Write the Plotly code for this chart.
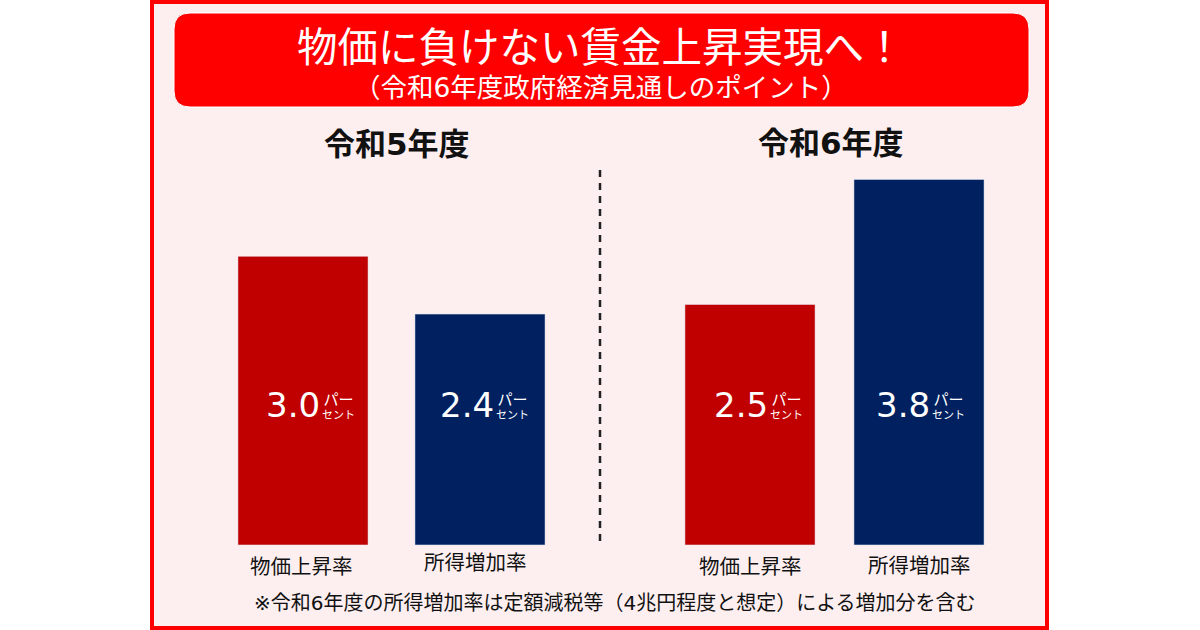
"""Real wage outlook: price rise vs income growth, FY Reiwa 5 and Reiwa 6."""

import plotly.graph_objects as go
from plotly.subplots import make_subplots

# ---------- Data ----------
categories = ["物価上昇率", "所得増加率"]
years = ["令和5年度", "令和6年度"]
values_r5 = [3.0, 2.4]
values_r6 = [2.5, 3.8]
bar_colors = ["#c00000", "#002060"]
unit_text = '<span style="font-size:15px">パー</span><br>セント'

title_text = "物価に負けない賃金上昇実現へ！"
subtitle_text = "（令和6年度政府経済見通しのポイント）"
note_text = "※令和6年度の所得増加率は定額減税等（4兆円程度と想定）による増加分を含む"

# DejaVu first for the wide digits, CJK falls through to Noto
FONT = "DejaVu Sans, Noto Sans CJK JP"
CJK = "Noto Sans CJK JP"
W, H = 1200, 630


def px(x):
    return x / W


def py(y):
    return 1 - y / H


# ---------- Figure: one subplot per year, each spans the page height ----------
fig = make_subplots(rows=1, cols=2, shared_yaxes=True)

fig.add_trace(go.Bar(x=categories, y=values_r5, marker_color=bar_colors,
                     width=0.735, showlegend=False, hoverinfo="x+y"),
              row=1, col=1)
fig.add_trace(go.Bar(x=categories, y=values_r6, marker_color=bar_colors,
                     width=0.77, showlegend=False, hoverinfo="x+y"),
              row=1, col=2)

hidden = dict(visible=False, fixedrange=True)
fig.update_xaxes(domain=[px(214.5), px(568.5)], range=[-0.5, 1.5], **hidden, row=1, col=1)
fig.update_xaxes(domain=[px(665.5), px(1003.5)], range=[-0.5, 1.5], **hidden, row=1, col=2)
fig.update_yaxes(domain=[0, 1], range=[-0.884, 5.665], **hidden)

# ---------- Panel, border, header box, divider ----------
shapes = [
    dict(type="rect", xref="paper", yref="paper", layer="below",
         x0=px(152), x1=px(1047), y0=py(628), y1=py(2),
         fillcolor="#fdeff0", line=dict(color="#ff0000", width=4)),
    dict(type="path", xref="paper", yref="paper", layer="below",
         path=(f"M {px(190)} {py(13)} L {px(1013)} {py(13)} "
               f"Q {px(1029)} {py(13)} {px(1029)} {py(29)} "
               f"L {px(1029)} {py(91)} Q {px(1029)} {py(107)} {px(1013)} {py(107)} "
               f"L {px(190)} {py(107)} Q {px(174)} {py(107)} {px(174)} {py(91)} "
               f"L {px(174)} {py(29)} Q {px(174)} {py(13)} {px(190)} {py(13)} Z"),
         fillcolor="#ff0000", line=dict(color="#ffffff", width=1)),
    dict(type="line", xref="paper", yref="paper",
         x0=px(600), x1=px(600), y0=py(170), y1=py(546),
         line=dict(color="#222222", width=2.5, dash="7px,6px")),
]


def page_text(text, x, y, size, color="#111111", bold=False, family=FONT):
    label = f"<b>{text}</b>" if bold else text
    return dict(text=label, xref="paper", yref="paper", x=px(x), y=py(y),
                xanchor="center", yanchor="middle", showarrow=False,
                font=dict(family=family, size=size, color=color))


annotations = [
    page_text(title_text, 601, 45, 40.5, "#ffffff", family=CJK),
    page_text(subtitle_text, 601, 88, 26.5, "#ffffff"),
    page_text(years[0], 397, 144, 31, bold=True),
    page_text(years[1], 831, 143, 31, bold=True),
    page_text(note_text, 615, 603, 20),
    page_text(categories[0], 301, 565, 20.5, family=CJK),
    page_text(categories[1], 475, 561, 20.5, family=CJK),
    page_text(categories[0], 750, 565, 20.5, family=CJK),
    page_text(categories[1], 919, 564, 20.5, family=CJK),
]


def bar_text(text, axis, cat, xshift, yshift, size, family):
    return dict(text=text, xref=axis, yref="y", x=cat, y=1.455,
                xshift=xshift, yshift=yshift, xanchor="center", yanchor="middle",
                showarrow=False, align="center", borderpad=0, borderwidth=0,
                font=dict(family=family, size=size, color="#ffffff"))


# value labels sit on the bars: number plus small stacked unit
label_sets = [("x", values_r5, (-10.5, -13.5), (35, 32)),
              ("x2", values_r6, (-9, -16), (36, 29))]
for axis, vals, num_shifts, unit_shifts in label_sets:
    for cat, val, ns, us in zip(categories, vals, num_shifts, unit_shifts):
        annotations.append(bar_text(f"{val:.1f}", axis, cat, ns, 0, 34, "DejaVu Sans"))
        annotations.append(bar_text(unit_text, axis, cat, us, 0, 11, CJK))

fig.update_layout(
    width=W, height=H, margin=dict(l=0, r=0, t=0, b=0),
    paper_bgcolor="#ffffff", plot_bgcolor="rgba(0,0,0,0)",
    shapes=shapes, annotations=annotations,
    font=dict(family=FONT),
)

fig.write_html("out.html", config={"displayModeBar": False},
               post_script="document.body.style.margin = '0';")
